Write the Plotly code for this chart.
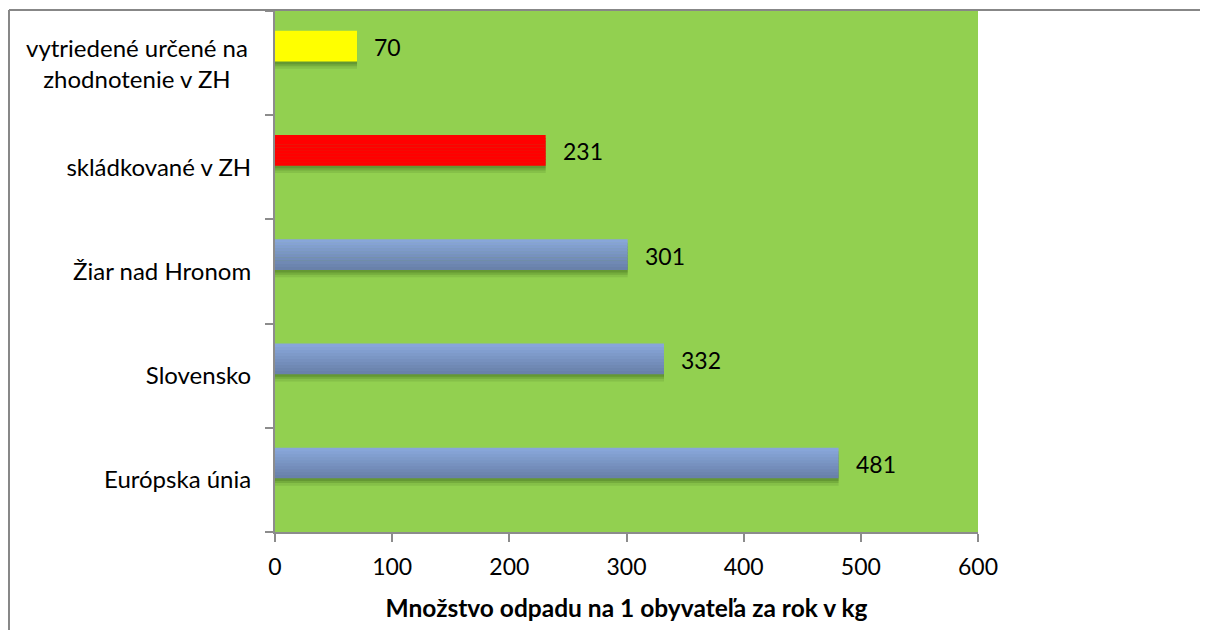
import plotly.graph_objects as go

# data (bottom to top)
categories = ["Európska únia", "Slovensko", "Žiar nad Hronom",
              "skládkované v ZH", "vytriedené určené na zhodnotenie v ZH"]
values = [481, 332, 301, 231, 70]
top_colors = ["#88A6D9", "#88A6D9", "#88A6D9", "#FF0000", "#FFFF00"]
bottom_colors = ["#6981AA", "#6981AA", "#6981AA", "#FF0000", "#FFFF00"]
tick_vals = [0, 100, 200, 300, 400, 500, 600]

FONT = "Lato"
bar_w = 0.29
bar_off = 0.015
n_strips = 10


def mix(c1, c2, t):
    a = [int(c1[i:i + 2], 16) for i in (1, 3, 5)]
    b = [int(c2[i:i + 2], 16) for i in (1, 3, 5)]
    return "rgb(%d,%d,%d)" % tuple(round(a[k] + (b[k] - a[k]) * t) for k in range(3))


fig = go.Figure()

# soft shadow under the bars
for k, alpha in [(0.07, 0.15), (0.045, 0.22), (0.025, 0.28)]:
    fig.add_trace(go.Bar(
        y=categories, x=values, orientation="h",
        width=bar_w, offset=bar_off - k,
        marker=dict(color="rgba(60,100,25,%s)" % alpha, line=dict(width=0)),
        hoverinfo="skip", showlegend=False
    ))

# bars drawn as horizontal strips to get the vertical gradient
for i in range(n_strips):
    t = i / (n_strips - 1)
    cols = [mix(b, a, t) for a, b in zip(top_colors, bottom_colors)]
    fig.add_trace(go.Bar(
        y=categories, x=values, orientation="h",
        width=bar_w / n_strips * 1.15,
        offset=bar_off + bar_w * i / n_strips,
        marker=dict(color=cols, line=dict(width=0)),
        hoverinfo="skip", showlegend=False
    ))

# value labels
for c, v in zip(categories, values):
    fig.add_annotation(
        x=v, y=c, xref="x", yref="y", text=str(v), showarrow=False,
        xanchor="left", xshift=15, yshift=16,
        font=dict(family=FONT, size=23, color="black")
    )

# two-line centered label for the top category
fig.add_annotation(
    x=0, y=categories[-1], xref="paper", yref="y",
    text="vytriedené určené na<br>zhodnotenie v ZH", align="center",
    showarrow=False, xanchor="right", xshift=-25,
    font=dict(family=FONT, size=24, color="black")
)

# outer chart frame (only left and top edges are visible)
fig.add_shape(type="line", xref="paper", yref="paper",
              x0=-0.3784, x1=-0.3784, y0=1.002, y1=-0.3,
              line=dict(color="#878787", width=2))
fig.add_shape(type="line", xref="paper", yref="paper",
              x0=-0.3784, x1=1.5, y0=1.002, y1=1.002,
              line=dict(color="#878787", width=2))

fig.update_layout(
    width=1200,
    height=622,
    barmode="overlay",
    plot_bgcolor="#92D050",
    paper_bgcolor="white",
    margin=dict(l=267, r=230, t=3, b=98),
    font=dict(family=FONT, size=24, color="black"),
    showlegend=False,
    xaxis=dict(
        range=[0, 600], tickvals=tick_vals, showgrid=False, zeroline=False,
        showline=True, linecolor="#8C8C8C", linewidth=2,
        ticks="outside", ticklen=8, tickcolor="#8C8C8C", tickwidth=2,
        ticklabelstandoff=5,
        tickfont=dict(family=FONT, size=23),
        title=dict(text="<b>Množstvo odpadu na 1 obyvateľa za rok v kg</b>",
                   font=dict(family=FONT, size=24.5), standoff=21),
    ),
    yaxis=dict(
        type="category", categoryorder="array", categoryarray=categories,
        tickmode="array", tickvals=categories,
        ticktext=categories[:-1] + [""],
        showgrid=False, showline=True, linecolor="#8C8C8C", linewidth=2,
        ticks="outside", ticklen=8, tickcolor="#8C8C8C", tickwidth=2,
        tickson="boundaries", ticklabelstandoff=17,
        tickfont=dict(family=FONT, size=24),
    ),
)

fig.write_html("out.html")
